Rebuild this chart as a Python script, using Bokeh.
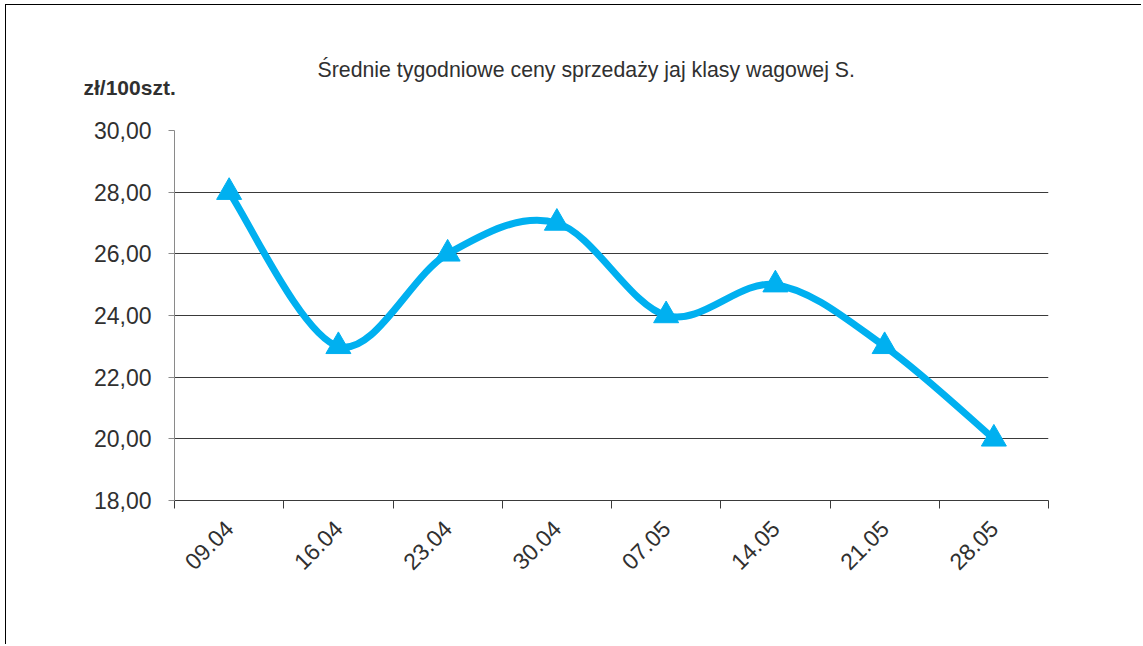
import math
from bokeh.plotting import figure
from bokeh.models import (Range1d, LinearAxis, FixedTicker, CustomJSTickFormatter,
                          Grid, Title, ColumnDataSource)
from bokeh.embed import file_html
from bokeh.resources import INLINE

# ---- data ----
categories = ["09.04", "16.04", "23.04", "30.04", "07.05", "14.05", "21.05", "28.05"]
prices = [28.0, 23.0, 26.0, 27.0, 24.0, 25.0, 23.0, 20.0]
y_ticks = [18, 20, 22, 24, 26, 28, 30]
title_text = "Średnie tygodniowe ceny sprzedaży jaj klasy wagowej S."
unit_text = "zł/100szt."

FONT = "Liberation Sans"
TXT = "#303030"
BLUE = "#00B0F0"

n = len(categories)
xs = [i + 0.5 for i in range(n)]

p = figure(width=1136, height=640, x_range=Range1d(0, n), y_range=Range1d(18, 30),
           x_axis_type=None, y_axis_type=None, output_backend="svg",
           toolbar_location=None, min_border_left=168, min_border_top=125,
           min_border_right=94, min_border_bottom=145,
           styles={"margin-left": "5px", "margin-top": "4px",
                   "border-left": "1px solid #000", "border-top": "1px solid #000"})
p.outline_line_color = None
p.background_fill_color = "white"
p.border_fill_color = "white"

# y axis
yax = LinearAxis(ticker=FixedTicker(ticks=y_ticks),
                 formatter=CustomJSTickFormatter(code="return tick.toFixed(2).replace('.', ',');"))
yax.axis_line_color = "#8a8a8a"
yax.major_tick_line_color = "#8a8a8a"
yax.major_tick_out = 6
yax.major_tick_in = 0
yax.minor_tick_line_color = None
yax.major_label_text_font = FONT
yax.major_label_text_font_size = "23px"
yax.major_label_text_color = TXT
yax.major_label_standoff = 17
p.add_layout(yax, "left")

# grid
p.add_layout(Grid(dimension=1, ticker=FixedTicker(ticks=y_ticks),
                  grid_line_color="#3a3a3a", grid_line_width=1))

# x axis: tick marks at category boundaries
xax1 = LinearAxis(ticker=FixedTicker(ticks=list(range(n + 1))),
                  formatter=CustomJSTickFormatter(code="return '';"))
xax1.axis_line_color = "#3a3a3a"
xax1.major_tick_line_color = "#3a3a3a"
xax1.major_tick_out = 8
xax1.major_tick_in = 0
xax1.minor_tick_line_color = None
xax1.major_label_text_font_size = "1px"
xax1.major_label_standoff = 0
p.add_layout(xax1, "below")

# x axis: labels at category centers
xax2 = LinearAxis(ticker=FixedTicker(ticks=xs),
                  major_label_overrides={x: c for x, c in zip(xs, categories)})
xax2.axis_line_color = None
xax2.major_tick_line_color = None
xax2.minor_tick_line_color = None
xax2.major_label_orientation = math.pi / 4
xax2.major_label_text_font = FONT
xax2.major_label_text_font_size = "23px"
xax2.major_label_text_color = TXT
xax2.major_label_standoff = 10
p.add_layout(xax2, "below")

# smoothed line (Excel-like Catmull-Rom bezier through data points)
x0, y0, x1, y1, cx0, cy0, cx1, cy1 = [], [], [], [], [], [], [], []
for i in range(n - 1):
    px, py = xs[i], prices[i]
    qx, qy = xs[i + 1], prices[i + 1]
    ax_, ay_ = (xs[i - 1], prices[i - 1]) if i > 0 else (px, py)
    bx_, by_ = (xs[i + 2], prices[i + 2]) if i + 2 < n else (qx, qy)
    x0.append(px); y0.append(py); x1.append(qx); y1.append(qy)
    cx0.append(px + (qx - ax_) / 6); cy0.append(py + (qy - ay_) / 6)
    cx1.append(qx - (bx_ - px) / 6); cy1.append(qy - (by_ - py) / 6)

bsrc = ColumnDataSource(dict(x0=x0, y0=y0, x1=x1, y1=y1, cx0=cx0, cy0=cy0, cx1=cx1, cy1=cy1))
p.bezier(x0="x0", y0="y0", x1="x1", y1="y1", cx0="cx0", cy0="cy0", cx1="cx1", cy1="cy1",
         source=bsrc, line_color=BLUE, line_width=7, line_cap="round")

p.scatter(xs, prices, marker="triangle", size=25, fill_color=BLUE, line_color=BLUE)

# title and unit label
t_unit = Title(text=unit_text, align="left", offset=-91, text_font=FONT,
               text_font_size="21px", text_font_style="bold", text_color=TXT,
               standoff=63)
t_main = Title(text=title_text, align="left", offset=143, text_font=FONT,
               text_font_size="21.3px", text_font_style="normal", text_color=TXT,
               standoff=-79)
p.add_layout(t_unit, "above")
p.add_layout(t_main, "above")

open("out.html", "w").write(file_html(p, INLINE))
